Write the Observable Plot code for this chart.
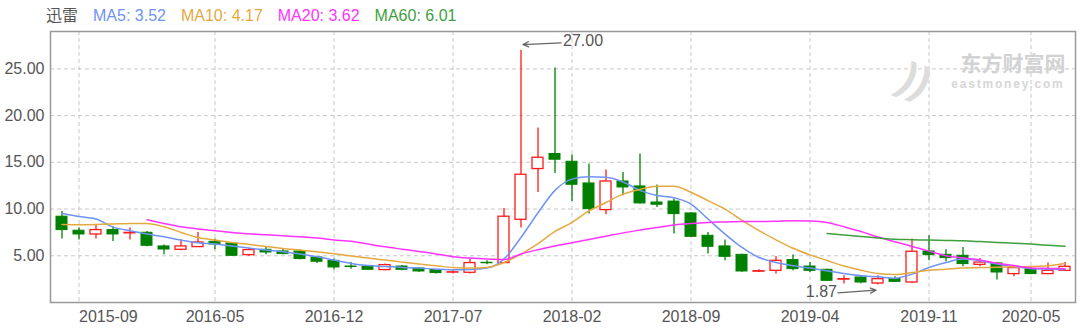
<!DOCTYPE html>
<html><head><meta charset="utf-8">
<script src="https://cdn.jsdelivr.net/npm/d3@7"></script>
<script src="https://cdn.jsdelivr.net/npm/@observablehq/plot@0.6"></script>
<style>
body{margin:0;background:#fff;}
#wrap{position:relative;width:1080px;height:332px;overflow:hidden;}
#legend{position:absolute;left:46px;top:4px;font:16px "Liberation Sans",Arial,sans-serif;line-height:20px;white-space:nowrap;}
#legend span{margin-right:15px;}
</style></head><body>
<div id="wrap"><div id="legend"></div></div>
<script>
const stockName = "迅雷";
const months = ["2015-08","2015-09","2015-10","2015-11","2015-12",
"2016-01","2016-02","2016-03","2016-04","2016-05","2016-06","2016-07","2016-08","2016-09","2016-10","2016-11","2016-12",
"2017-01","2017-02","2017-03","2017-04","2017-05","2017-06","2017-07","2017-08","2017-09","2017-10","2017-11","2017-12",
"2018-01","2018-02","2018-03","2018-04","2018-05","2018-06","2018-07","2018-08","2018-09","2018-10","2018-11","2018-12",
"2019-01","2019-02","2019-03","2019-04","2019-05","2019-06","2019-07","2019-08","2019-09","2019-10","2019-11","2019-12",
"2020-01","2020-02","2020-03","2020-04","2020-05","2020-06","2020-07"];
const opens = [9.18,7.68,7.28,7.75,7.40,7.46,6.00,5.64,5.93,6.50, 6.32,5.07,5.64,5.46,5.46,4.82,4.46,3.85,3.85,3.47, 3.85,3.64,3.47,3.20,3.18,4.25,4.22,8.85,14.28,15.89, 15.06,12.74,9.89,12.95,12.42,10.70,10.80,9.53,7.14,6.00, 5.10,3.30,3.39,4.54,3.85,3.50,2.45,2.68,2.03,2.50, 2.14,5.46,5.10,5.00,4.03,4.18,3.04,3.57,3.04,3.39];
const highs = [9.74,7.97,8.32,8.10,7.97,7.60,6.15,6.68,7.50,6.79, 6.36,5.78,5.96,5.72,5.61,4.93,4.65,4.28,3.90,4.11, 3.96,3.75,3.57,3.39,4.65,4.46,10.06,27.00,18.67,25.10, 15.78,14.82,14.18,13.92,15.89,12.57,11.07,9.64,7.50,6.68, 5.15,3.50,4.93,5.07,4.28,3.57,2.86,2.86,2.86,2.75, 6.79,7.14,5.64,5.89,4.71,4.28,3.68,3.75,4.22,4.28];
const lows = [6.79,6.68,6.79,6.53,6.68,5.96,5.10,5.53,5.89,5.64, 4.93,4.93,5.10,5.10,4.57,4.18,3.50,3.57,3.46,3.39, 3.39,3.21,3.04,3.04,3.04,4.03,4.17,7.97,11.78,13.81, 10.81,9.46,9.39,11.42,10.55,10.17,7.32,6.95,5.18,4.46, 3.25,3.20,3.04,3.39,3.21,2.25,1.97,2.00,1.87,2.14, 2.03,4.46,4.36,3.82,3.82,2.40,2.75,2.96,2.96,3.32];
const closes = [7.75,7.28,7.75,7.28,7.45,6.07,5.67,6.00,6.42,6.21, 5.00,5.61,5.35,5.18,4.65,4.36,3.75,3.80,3.50,4.00, 3.50,3.32,3.15,3.23,4.22,4.20,9.18,13.67,15.49,15.28, 12.60,10.00,12.95,12.31,10.60,10.46,9.46,7.03,5.96,4.89, 3.32,3.35,4.46,3.57,3.39,2.32,2.50,2.14,2.50,2.21, 5.43,5.07,4.75,4.11,4.28,3.21,3.68,3.04,3.39,3.82];
const ma5 = [9.53,9.21,8.93,8.07,7.68,7.32,7.03,6.68,6.39,6.25, 6.04,5.82,5.61,5.43,5.18,4.89,4.54,4.18,3.96,3.86, 3.75,3.68,3.57,3.50,3.53,3.68,4.65,6.96,9.60,12.0, 13.2,13.45,13.4,12.9,12.0,11.45,11.2,10.53,8.93,7.32, 5.89,4.82,4.28,3.93,3.68,3.39,3.10,2.86,2.75,2.60, 3.04,3.75,4.28,4.65,4.46,4.11,3.82,3.64,3.57,3.52];
const ma10 = [8.35,8.33,8.35,8.40,8.45,8.45,8.10,7.50,6.95,6.68, 6.42,6.21,6.00,5.78,5.61,5.43,5.22,4.98,4.75,4.54, 4.32,4.11,3.93,3.75,3.68,3.75,4.28,5.18,6.30,7.60, 8.57,9.80,10.7,11.6,12.1,12.45,12.45,11.8,10.9,10.0, 8.80,7.70,6.70,5.80,5.10,4.50,3.90,3.45,3.10,3.00, 3.20,3.46,3.57,3.68,3.75,3.76,3.82,3.85,3.93,4.17];
const ma20 = [null,null,null,null,null,8.85,8.46,8.10,7.86,7.68, 7.50,7.35,7.25,7.14,7.03,6.89,6.70,6.55,6.25,5.96, 5.71,5.46,5.20,4.90,4.75,4.65,4.60,5.20,5.65,6.05, 6.40,6.75,7.10,7.45,7.75,8.03,8.30,8.46,8.57,8.62, 8.67,8.67,8.70,8.75,8.72,8.57,8.10,7.60,7.00,6.50, 6.00,5.50,5.00,4.75,4.55,4.20,3.95,3.70,3.65,3.62];
const ma60 = [null,null,null,null,null,null,null,null,null,null, null,null,null,null,null,null,null,null,null,null, null,null,null,null,null,null,null,null,null,null, null,null,null,null,null,null,null,null,null,null, null,null,null,null,null,7.39,7.23,7.07,6.91,6.76, 6.72,6.68,6.64,6.60,6.52,6.43,6.34,6.25,6.13,6.01];
const maNames = ["MA5","MA10","MA20","MA60"];
const maLast = [3.52, 4.17, 3.62, 6.01];
const maColors = ["#6f93f5","#e5a93f","#ff33ff","#3f9f3f"];
const xTicks = ["2015-09","2016-05","2016-12","2017-07","2018-02","2018-09","2019-04","2019-11","2020-05"];
const yTicks = [5, 10, 15, 20, 25];
const extremes = [
  {label: "27.00", tx: "2018-02", ty: 28.05, x1: "2018-02", y1: 27.84, x2: "2017-11", y2: 27.59, side: "right"},
  {label: "1.87", tx: "2019-05", ty: 1.17, x1: "2019-05", y1: 0.96, x2: "2019-08", y2: 1.33, side: "left"}
];

const candles = months.map((m, i) => ({month: m, open: opens[i], high: highs[i], low: lows[i], close: closes[i]}));
const up = candles.filter(d => d.close >= d.open);
const down = candles.filter(d => d.close < d.open);
const RED = "#ff1a1a", GREEN = "#008000";
const maSeries = [ma5, ma10, ma20, ma60];

const legend = document.getElementById("legend");
legend.innerHTML = `<span style="color:#555;font-family:'Noto Sans CJK SC',sans-serif">${stockName}</span>` +
  maNames.map((n, k) => `<span style="color:${maColors[k]}">${n}: ${maLast[k].toFixed(2)}</span>`).join("");

const chart = Plot.plot({
  width: 1080, height: 332,
  marginLeft: 50, marginRight: 5, marginTop: 31, marginBottom: 30,
  style: {fontFamily: "'Liberation Sans', Arial, sans-serif", fontSize: "16px", color: "#555", background: "transparent"},
  x: {type: "band", domain: months, paddingInner: 0.36, paddingOuter: 0.115, align: 0.5},
  y: {domain: [0, 29]},
  marks: [
    Plot.gridY(yTicks, {stroke: "#c8c8c8", strokeOpacity: 1, strokeDasharray: "4,3"}),
    Plot.gridX(xTicks, {stroke: "#c8c8c8", strokeOpacity: 1, strokeDasharray: "4,3"}),
    Plot.axisY(yTicks, {tickSize: 0, tickPadding: 6, tickFormat: d3.format(".2f"), label: null, fill: "#555"}),
    Plot.axisX(xTicks.slice(0, 1), {tickSize: 0, tickPadding: 8, textAnchor: "start", label: null, fill: "#555"}),
    Plot.axisX(xTicks.slice(1), {tickSize: 0, tickPadding: 8, label: null, fill: "#555"}),
    Plot.text(["))"], {frameAnchor: "top-right", dx: -142, dy: 38, fontSize: 42, fontWeight: "bold", fontStyle: "italic", fill: "#dcdcdc", rotate: 20}),
    Plot.text(["东方财富网"], {frameAnchor: "top-right", dx: -10, dy: 25, textAnchor: "end", fontSize: 21, fontWeight: "bold", fill: "#d2d2d2", fontFamily: "'Noto Sans CJK SC', sans-serif"}),
    Plot.text(["eastmoney.com"], {frameAnchor: "top-right", dx: -11, dy: 48, textAnchor: "end", fontSize: 12, fontWeight: "bold", fill: "#d6d6d6", className: "wm2"}),
    Plot.ruleX(up, {x: "month", y1: "low", y2: "high", stroke: RED, strokeWidth: 1.3}),
    Plot.ruleX(down, {x: "month", y1: "low", y2: "high", stroke: GREEN, strokeWidth: 1.3}),
    Plot.barY(up, {x: "month", y1: "open", y2: "close", fill: "white", stroke: RED, strokeWidth: 1.3}),
    Plot.barY(down, {x: "month", y1: "open", y2: "close", fill: GREEN, stroke: GREEN, strokeWidth: 1}),
    ...maSeries.map((s, k) => Plot.line(months, {x: d => d, y: (d, i) => s[i], stroke: maColors[k], strokeWidth: 1.5, curve: "monotone-x"})),
    Plot.arrow(extremes, {x1: "x1", y1: "y1", x2: "x2", y2: "y2", stroke: "#666", strokeWidth: 1.3, headLength: 7, headAngle: 50, insetStart: 11, insetEnd: 2}),
    Plot.text(extremes.filter(d => d.side === "right"), {x: "tx", y: "ty", text: "label", dx: -9, textAnchor: "start", fill: "#555", fontSize: 16}),
    Plot.text(extremes.filter(d => d.side === "left"), {x: "tx", y: "ty", text: "label", dx: 10, textAnchor: "end", fill: "#555", fontSize: 16}),
    Plot.frame({stroke: "#999", strokeWidth: 1.5})
  ]
});
d3.select(chart).selectAll(".wm2 text").style("letter-spacing", "1.8px");
document.getElementById("wrap").prepend(chart);
</script>
</body></html>
